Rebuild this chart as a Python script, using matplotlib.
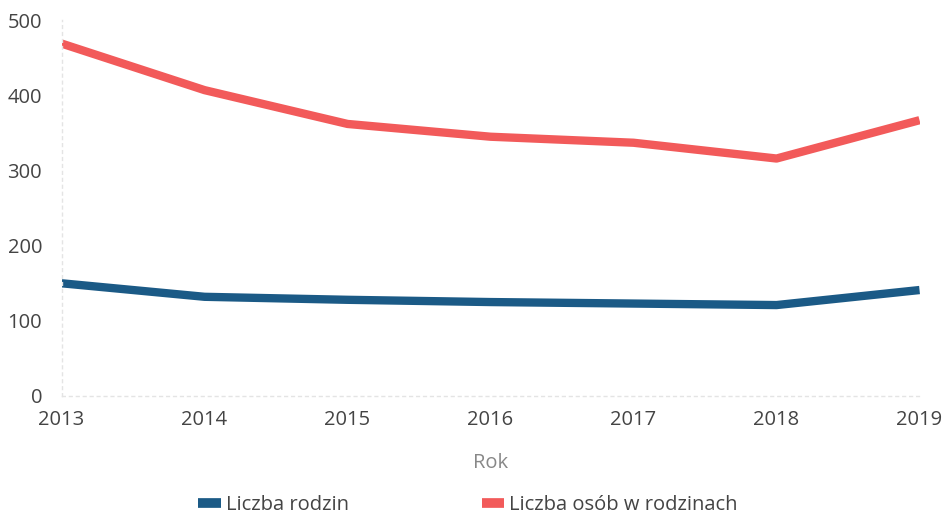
import matplotlib.pyplot as plt

years = [2013, 2014, 2015, 2016, 2017, 2018, 2019]
rodziny = [150, 132, 128, 125, 123, 121, 141]
osoby = [469, 407, 362, 345, 337, 316, 367]

plt.rcParams['font.family'] = ['Open Sans', 'DejaVu Sans']
text_color = '#444444'

fig = plt.figure(figsize=(9.47, 5.19), dpi=100)
ax = fig.add_axes([0.065, 0.237, 0.906, 0.724])

ax.plot(years, rodziny, color='#1b5a86', lw=6, solid_capstyle='butt',
        label='Liczba rodzin')
ax.plot(years, osoby, color='#f25a5a', lw=6, solid_capstyle='butt',
        label='Liczba osób w rodzinach')

ax.set_xlim(2013, 2019)
ax.set_ylim(0, 500)
ax.set_xticks(years)
ax.set_yticks(range(0, 501, 100))
ax.tick_params(length=0, labelsize=14.5, colors=text_color)
ax.tick_params(axis='x', pad=10)
ax.tick_params(axis='y', pad=14)

for s in ['top', 'right']:
    ax.spines[s].set_visible(False)
for s in ['bottom', 'left']:
    ax.spines[s].set_color('#e4e4e4')
    ax.spines[s].set_linestyle((0, (2, 3)))
    ax.spines[s].set_linewidth(1)

ax.set_xlabel('Rok', fontsize=14.5, color='#888888', labelpad=17)

# legend in figure coords, pad kept small so text stays inside the canvas
leg = fig.legend(loc='lower center', bbox_to_anchor=(0.494, 0.0), ncol=2,
                 frameon=False, fontsize=14.5, handlelength=1.1, handleheight=0.6,
                 columnspacing=6.6, handletextpad=0.25, borderaxespad=0.1,
                 borderpad=0.1)
for h in leg.legend_handles:
    h.set_linewidth(7)
for t in leg.get_texts():
    t.set_color(text_color)

fig.savefig('out.png', dpi=100)
